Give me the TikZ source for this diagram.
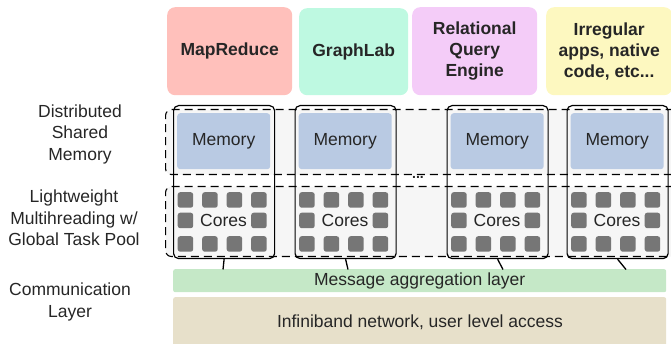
\documentclass[tikz,border=0pt]{standalone}
\usepackage{fontspec}
\setmainfont{Liberation Sans}
\definecolor{txt}{HTML}{262626}
\definecolor{mapred}{HTML}{FFC0BB}
\definecolor{graphlab}{HTML}{BEF9E1}
\definecolor{relq}{HTML}{F4CCF8}
\definecolor{irreg}{HTML}{FDF8C0}
\definecolor{memc}{HTML}{B9CAE3}
\definecolor{corec}{HTML}{767676}
\definecolor{msgc}{HTML}{C5E8C7}
\definecolor{netc}{HTML}{E7E0CA}
\definecolor{bandc}{HTML}{F6F6F6}
\begin{document}
\begin{tikzpicture}[x=1pt,y=-1pt,
  lbl/.style={font=\fontsize{17.5}{21.5}\selectfont, text=txt, align=center, inner sep=0},
  app/.style={rounded corners=8pt, draw=none, inner sep=0, anchor=north west,
    font=\fontsize{17.5}{21}\selectfont\bfseries, text=txt, align=center},
  band/.style={draw=black, line width=1.1pt, dash pattern=on 8pt off 5pt, fill=bandc, rounded corners=6pt},
  nodebox/.style={draw=black, line width=1.2pt, rounded corners=5pt, anchor=north west,
    inner sep=0, minimum width=101pt, minimum height=153pt},
  mem/.style={fill=memc, rounded corners=3pt, anchor=north west, inner sep=0,
    minimum width=93pt, minimum height=56pt, font=\fontsize{17.5}{21}\selectfont, text=txt},
  core/.style={fill=corec, rounded corners=2.5pt, anchor=north west, inner sep=0,
    minimum width=15.5pt, minimum height=15.5pt},
  layer/.style={rounded corners=2pt, anchor=north west, inner sep=0,
    font=\fontsize{17.5}{21}\selectfont, text=txt},
  conn/.style={draw=black, line width=1.3pt}]
\useasboundingbox (0,0) rectangle (671,344);

% application boxes
\node[app, fill=mapred, minimum width=125pt, minimum height=88pt] (mr) at (167,7) {MapReduce};
\node[app, fill=graphlab, minimum width=109pt, minimum height=87pt] (gl) at (299,8) {GraphLab};
\node[app, fill=relq, minimum width=125pt, minimum height=88pt] (rq) at (412,7) {Relational\\Query\\Engine};
\node[app, fill=irreg, minimum width=126pt, minimum height=88pt] (ir) at (546,7) {Irregular\\apps, native\\code, etc...};

% dashed bands
\node[band, anchor=north west, minimum width=540pt, minimum height=65pt, inner sep=0] (dsm) at (165,109) {};
\node[band, anchor=north west, minimum width=540pt, minimum height=70pt, inner sep=0] (ltp) at (165,186) {};
\node[font=\fontsize{14}{14}\selectfont\bfseries, text=txt, inner sep=0] (dots) at (418,177.5) {...};

% left labels
\node[lbl] (ldsm) at (80,134) {Distributed\\Shared\\Memory};
\node[lbl] (lltp) at (74,218) {Lightweight\\Multihreading w/\\Global Task Pool};
\node[lbl] (lcom) at (70,302) {Communication\\Layer};

% compute nodes
\foreach \i/\x in {1/173,2/294.5,3/446.5,4/566.5}{
  \node[nodebox] (n\i) at (\x,105) {};
  \node[mem] (m\i) at (\x+4,113) {Memory};
  \foreach \c/\dx in {1/4.5,2/29,3/53.5,4/78}{
    \node[core] (s\i-1-\c) at (\x+\dx,192) {};
    \node[core] (s\i-3-\c) at (\x+\dx,236) {};
  }
  \node[core] (s\i-2-1) at (\x+4.5,212.5) {};
  \node[core] (s\i-2-4) at (\x+78,212.5) {};
  \node[lbl] (c\i) at (\x+50.5,220) {Cores};
}

% layers
\node[layer, fill=msgc, minimum width=493pt, minimum height=23pt] (msg) at (173,269) {Message aggregation layer};
\node[layer, fill=netc, minimum width=493pt, minimum height=60pt] (net) at (173,297) {};
\node[lbl] (nett) at (420,322) {Infiniband network, user level access};

% connectors
\coordinate (e1) at (223,269.5);
\coordinate (e2) at (348,269.5);
\coordinate (e3) at (503,269.5);
\coordinate (e4) at (626,269.5);
\foreach \i in {1,2,3,4}{
  \draw[conn] (n\i.south) -- (e\i);
}
\end{tikzpicture}
\end{document}
